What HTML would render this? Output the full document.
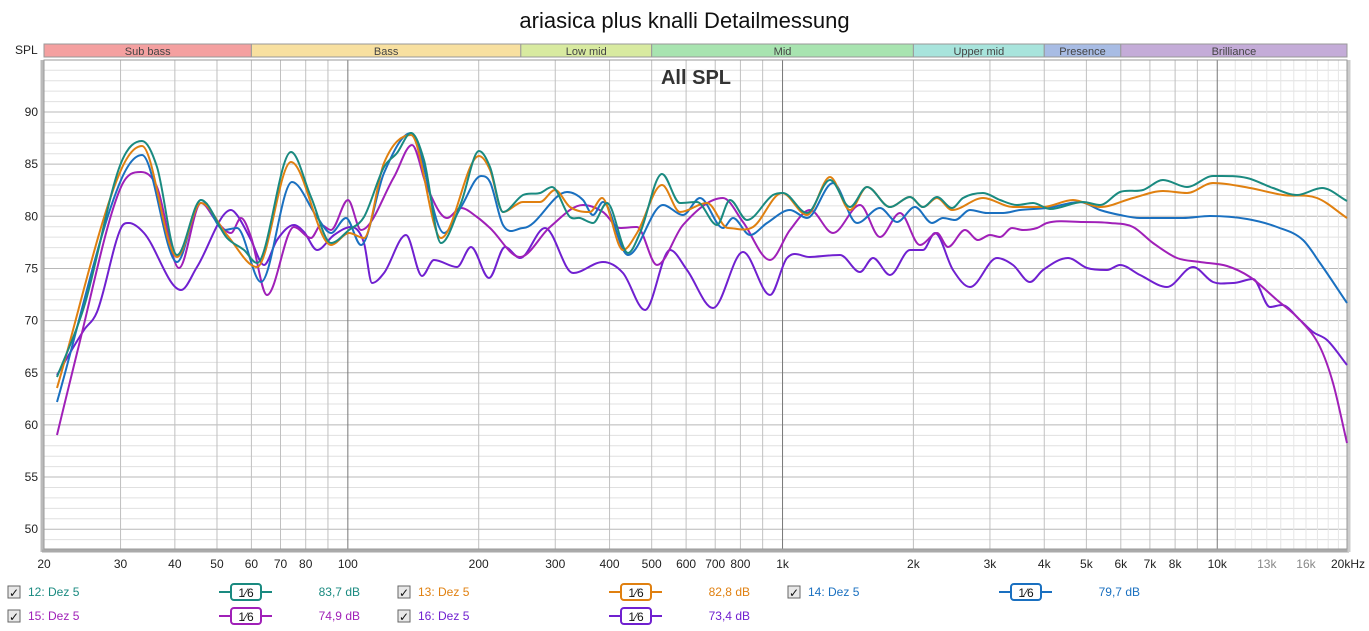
<!DOCTYPE html>
<html><head><meta charset="utf-8"><style>
body{margin:0;width:1369px;height:631px;background:#fff;font-family:"Liberation Sans",sans-serif;overflow:hidden;position:relative}
.t{position:absolute;white-space:nowrap}
</style></head><body>
<div class="t" style="left:0;width:1369px;top:8px;text-align:center;font-size:22px;color:#111">ariasica plus knalli Detailmessung</div>
<div class="t" style="left:15px;top:43px;font-size:12px;color:#222">SPL</div>
<svg id="s" width="1369" height="631" style="position:absolute;left:0;top:0"></svg>
<script>
const X=f=>44+Math.log10(f/20)*434.7, Y=d=>112+(90-d)*10.43;
let h='';
const bands=[[20,60,'#f4a0a0','Sub bass'],[60,250,'#f8e0a0','Bass'],[250,500,'#d8eaa0','Low mid'],[500,2000,'#a8e4b0','Mid'],[2000,4000,'#a8e4dc','Upper mid'],[4000,6000,'#a8bce4','Presence'],[6000,20000,'#c4acd8','Brilliance']];
for(const b of bands){const x1=X(b[0]),x2=Math.min(X(b[1]),1347);h+=`<rect x="${x1}" y="44" width="${x2-x1}" height="13" fill="${b[2]}" stroke="#999" stroke-width="1"/><text x="${(x1+x2)/2}" y="55" font-size="11" text-anchor="middle" fill="#444" font-family="Liberation Sans">${b[3]}</text>`;}
for(let d=48;d<=95;d++){const y=Y(d);if(y<60||y>549)continue;h+=`<line x1="44" x2="1347" y1="${y}" y2="${y}" stroke="${d%5==0?'#b8b8b8':'#e0e0e0'}" stroke-width="1"/>`;if(d%5==0&&d<95)h+=`<text x="38" y="${y+4}" font-size="12" text-anchor="end" fill="#222" font-family="Liberation Sans">${d}</text>`;}
const fs=[];for(let dec of [10,100,1000,10000])for(let m=1;m<10;m++){const f=dec*m;if(f>=20&&f<=20000)fs.push(f);}fs.push(20000);
for(const f of fs){const x=X(f);let c='#c0c0c0';if(f==100||f==1000||f==10000)c='#777';else if(f>10000)c='#e0e0e0';h+=`<line x1="${x}" x2="${x}" y1="60" y2="549" stroke="${c}"/>`;}
for(let f=11000;f<20000;f+=1000){if(f%10000==0)continue;const x=X(f);h+=`<line x1="${x}" x2="${x}" y1="60" y2="549" stroke="#e6e6e6"/>`;}
h+=`<rect x="44" y="60" width="1303" height="489" fill="none" stroke="#999"/><line x1="42" y1="60" x2="42" y2="552" stroke="#bbb" stroke-width="3"/><line x1="42" y1="551" x2="1349" y2="551" stroke="#aaa" stroke-width="3"/><line x1="1349" y1="60" x2="1349" y2="552" stroke="#ccc" stroke-width="3"/>`;
h+=`<text x="696" y="84" font-size="20" font-weight="bold" text-anchor="middle" fill="#333" font-family="Liberation Sans">All SPL</text>`;
const labs=[[20,'20'],[30,'30'],[40,'40'],[50,'50'],[60,'60'],[70,'70'],[80,'80'],[100,'100'],[200,'200'],[300,'300'],[400,'400'],[500,'500'],[600,'600'],[700,'700'],[800,'800'],[1000,'1k'],[2000,'2k'],[3000,'3k'],[4000,'4k'],[5000,'5k'],[6000,'6k'],[7000,'7k'],[8000,'8k'],[10000,'10k'],[13000,'13k'],[16000,'16k']];
for(const l of labs){const g=l[0]>10000;h+=`<text x="${X(l[0])}" y="568" font-size="12" text-anchor="middle" fill="${g?'#888':'#222'}" font-family="Liberation Sans">${l[1]}</text>`;}
h+=`<text x="1348" y="568" font-size="12" text-anchor="middle" fill="#222" font-family="Liberation Sans">20kHz</text>`;
function P(a){let p=[];for(let i=0;i<a.length;i+=2)p.push([a[i],a[i+1]]);const n=p.length;const m=[];
for(let i=0;i<n;i++){if(i==0)m.push((p[1][1]-p[0][1])/(p[1][0]-p[0][0]));else if(i==n-1)m.push((p[i][1]-p[i-1][1])/(p[i][0]-p[i-1][0]));else{const s1=(p[i][1]-p[i-1][1])/(p[i][0]-p[i-1][0]),s2=(p[i+1][1]-p[i][1])/(p[i+1][0]-p[i][0]);m.push(s1*s2<=0?0:(s1+s2)/2);}}
let d=`M${p[0][0]},${p[0][1]}`;for(let i=0;i<n-1;i++){const dx=(p[i+1][0]-p[i][0])/3;d+=`C${p[i][0]+dx},${p[i][1]+m[i]*dx} ${p[i+1][0]-dx},${p[i+1][1]-m[i+1]*dx} ${p[i+1][0]},${p[i+1][1]}`;}return d;}
const S={
'#7020d0':[57,375,84,330,97,312,121,228,129,223,144,233,181,290,197,267,231,210,237,215,251,240,264,265,277,240,294,225,304,232,317,250,334,235,351,227,364,243,372,283,384,273,406,235,422,276,434,260,457,267,471,247,489,278,505,247,520,258,545,228,573,273,603,262,623,273,645,310,670,250,687,270,713,308,743,252,770,295,787,258,810,257,840,255,860,272,873,258,890,275,910,250,923,250,935,233,953,270,970,287,997,258,1013,265,1030,282,1043,270,1068,258,1087,268,1107,270,1120,265,1140,275,1167,287,1193,267,1213,282,1233,283,1253,279,1270,307,1282,305,1300,320,1313,332,1327,340,1347,365],
'#a020b8':[57,435,77,353,121,187,141,172,157,187,179,268,201,203,217,222,231,233,241,218,251,237,267,295,294,227,311,238,321,225,331,230,348,200,361,230,394,177,412,145,427,187,447,218,461,208,477,217,490,228,520,257,550,227,583,205,603,212,620,228,637,227,657,265,683,225,723,198,743,222,770,260,790,230,810,210,833,233,860,205,880,237,900,213,920,245,937,233,948,247,965,230,978,240,990,235,1000,237,1012,228,1023,230,1037,228,1047,223,1083,222,1110,223,1133,227,1153,243,1177,258,1200,262,1227,266,1250,277,1277,300,1300,320,1320,347,1333,383,1347,443],
'#1a70c0':[57,402,121,180,142,155,177,262,201,200,224,230,237,228,261,282,292,182,317,217,331,233,346,218,361,245,384,173,411,133,444,233,461,207,481,176,490,182,503,225,523,228,567,192,583,200,593,215,603,202,628,255,663,205,683,215,700,198,723,228,733,218,750,235,767,223,790,210,807,218,833,183,857,223,880,208,897,222,915,207,932,223,943,218,955,220,970,210,987,213,1003,213,1020,210,1047,208,1080,202,1100,210,1120,215,1140,218,1183,218,1210,216,1247,219,1277,227,1303,240,1320,263,1347,303],
'#e08010':[57,388,121,170,142,146,177,257,201,203,227,235,257,267,291,162,331,245,349,233,364,238,384,163,411,135,441,238,479,156,490,170,503,212,523,202,540,202,555,190,570,207,590,212,602,198,623,250,637,233,662,185,680,212,707,203,728,228,753,227,782,193,807,215,830,177,850,210,867,187,890,207,910,197,923,207,937,198,952,210,983,198,1013,207,1043,207,1073,200,1100,207,1133,198,1163,191,1187,193,1213,183,1250,188,1283,195,1317,198,1347,218],
'#1a8a80':[57,377,84,307,121,163,142,141,157,167,177,255,201,200,227,238,244,250,257,263,291,152,311,197,331,243,349,230,364,217,384,167,397,153,411,133,424,160,441,243,461,203,479,151,490,167,503,212,523,195,540,193,552,187,570,217,580,218,593,223,607,203,628,253,640,233,662,174,680,203,697,202,717,225,730,200,747,220,773,195,783,193,807,213,830,180,850,207,867,187,890,207,910,197,923,207,937,197,952,208,963,198,983,193,1000,200,1017,205,1033,203,1050,209,1083,202,1100,205,1120,192,1143,190,1163,180,1187,187,1213,176,1247,178,1273,188,1297,195,1322,188,1347,201]};
for(const c in S)h+=`<path d="${P(S[c])}" fill="none" stroke="${c}" stroke-width="2"/>`;
const L=[[0,592,'#1a8a80','12: Dez 5','83,7 dB'],[1,592,'#e08010','13: Dez 5','82,8 dB'],[2,592,'#1a70c0','14: Dez 5','79,7 dB'],[0,616,'#a020b8','15: Dez 5','74,9 dB'],[1,616,'#7020d0','16: Dez 5','73,4 dB']];
for(const l of L){const o=l[0]*390,y=l[1];
h+=`<rect x="${8+o}" y="${y-6}" width="12" height="12" fill="#e8e8e8" stroke="#666"/><text x="${9+o}" y="${y+5}" font-size="12" fill="#111" font-family="DejaVu Sans">✓</text>`;
h+=`<text x="${28+o}" y="${y+4}" font-size="12" fill="${l[2]}" font-family="Liberation Sans">${l[3]}</text>`;
h+=`<line x1="${219+o}" x2="${272+o}" y1="${y}" y2="${y}" stroke="${l[2]}" stroke-width="2"/><rect x="${231+o}" y="${y-8}" width="30" height="16" rx="3" fill="#fff" stroke="${l[2]}" stroke-width="2"/><text x="${246+o}" y="${y+5}" font-size="12" text-anchor="middle" fill="#111" font-family="Liberation Sans">1⁄6</text>`;
h+=`<text x="${360+o}" y="${y+4}" font-size="12" text-anchor="end" fill="${l[2]}" font-family="Liberation Sans">${l[4]}</text>`;}
document.getElementById('s').innerHTML=h;
</script>
</body></html>
